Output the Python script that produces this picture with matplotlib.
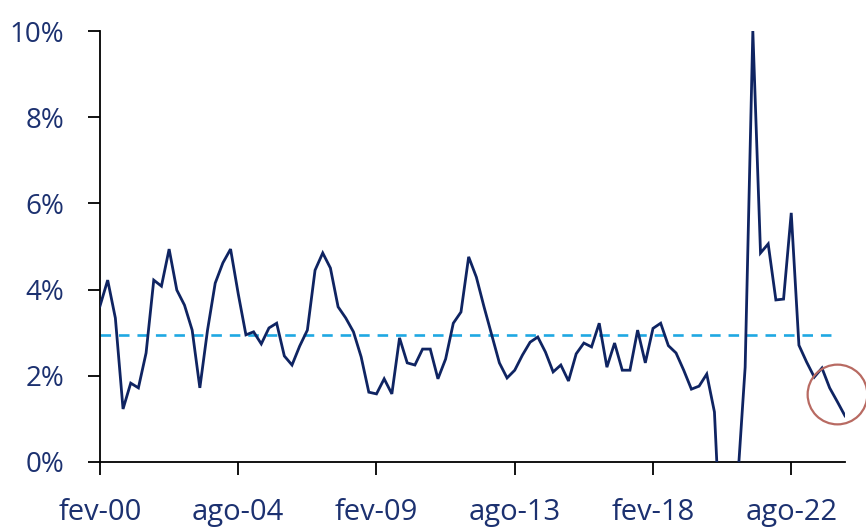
import matplotlib.pyplot as plt
import numpy as np

# quarterly series, fev-00 onwards (% values)
values = [
    3.62, 4.22, 3.34, 1.23, 1.83, 1.72, 2.53, 4.22, 4.08, 4.94,
    3.99, 3.64, 3.06, 1.72, 3.06, 4.15, 4.62, 4.94, 3.90, 2.95,
    3.02, 2.74, 3.11, 3.22, 2.46, 2.25, 2.69, 3.06, 4.45, 4.85,
    4.50, 3.60, 3.34, 3.02, 2.44, 1.62, 1.58, 1.93, 1.58, 2.88,
    2.30, 2.25, 2.62, 2.62, 1.93, 2.39, 3.22, 3.48, 4.76, 4.29,
    3.60, 2.95, 2.30, 1.95, 2.13, 2.48, 2.78, 2.90, 2.55, 2.09,
    2.25, 1.88, 2.51, 2.76, 2.67, 3.22, 2.20, 2.76, 2.13, 2.13,
    3.06, 2.30, 3.10, 3.22, 2.70, 2.53, 2.13, 1.69, 1.76, 2.04,
    1.16, -2.6, -4.0, -0.5, 2.20, 10.0, 4.85, 5.06, 3.76, 3.78,
    5.78, 2.71, 2.32, 1.97, 2.18, 1.72, 1.40, 1.07,
]
average = 2.95
tick_pos = [0, 18, 36, 54, 72, 90]
tick_labels = ["fev-00", "ago-04", "fev-09", "ago-13", "fev-18", "ago-22"]
y_ticks = [0, 2, 4, 6, 8, 10]
highlight = (96, 1.58)  # circled last points

navy = "#0f2462"
text_col = "#1c3170"

plt.rcParams["font.family"] = ["Open Sans", "DejaVu Sans"]

fig = plt.figure(figsize=(8.66, 5.28), dpi=100)
ax = fig.add_axes([100 / 866, 66 / 528, 745 / 866, 431 / 528])

x = np.arange(len(values))
ax.plot(x, values, color=navy, lw=2.0, solid_joinstyle="miter", zorder=3)

# long-run average
ax.plot([0, 96], [average, average], color="#1fa8e2", lw=1.9, dashes=(4, 3), zorder=2)

# circle around the latest readings
ax.plot([highlight[0]], [highlight[1]], marker="o", markersize=43,
        markerfacecolor="none", markeredgecolor="#b86a62", mew=1.6,
        clip_on=False, zorder=4)

ax.set_xlim(0, len(values) - 1)
ax.set_ylim(0, 10)
ax.set_xticks(tick_pos)
ax.set_xticklabels(tick_labels)
ax.set_yticks(y_ticks)
ax.set_yticklabels([f"{v}%" for v in y_ticks])

for side in ["top", "right"]:
    ax.spines[side].set_visible(False)
for side in ["left", "bottom"]:
    ax.spines[side].set_color("black")
    ax.spines[side].set_linewidth(1.3)

ax.tick_params(axis="y", length=9, width=1.3, pad=17, labelsize=20, labelcolor=text_col)
ax.tick_params(axis="x", length=9, width=1.3, pad=17, labelsize=21, labelcolor=text_col)

fig.savefig("out.png", dpi=100)
